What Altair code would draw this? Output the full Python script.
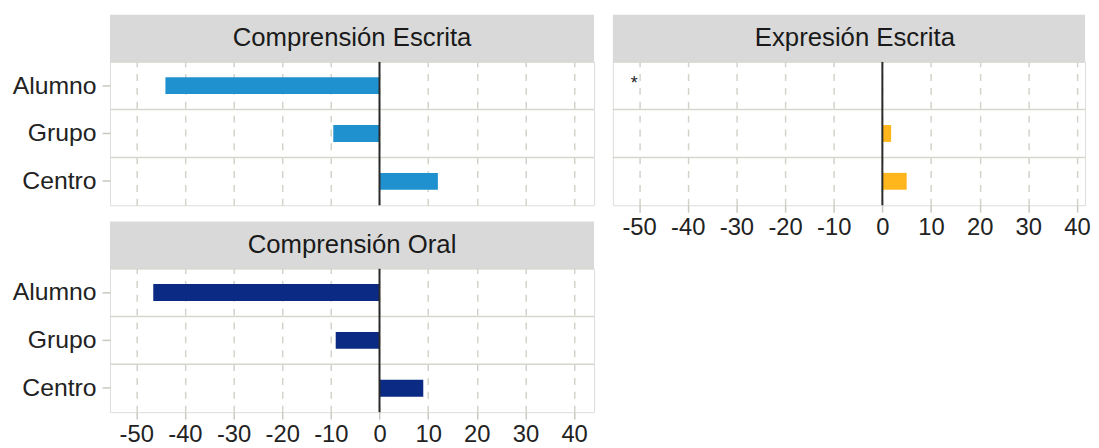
import altair as alt
import pandas as pd

categories = ["Alumno", "Grupo", "Centro"]
comp_escrita = [-44.0, -9.5, 12.0]
comp_oral = [-46.5, -9.0, 9.0]
expr_escrita = [None, 1.8, 5.0]
tick_values = [-50, -40, -30, -20, -10, 0, 10, 20, 30, 40]
missing_cat = ["Alumno"]
missing_x = [-51]
zero_line = [0]

FONT = "Liberation Sans"
LABEL = "#222222"
GRID = "#d3d3ca"
TICK = "#c9c9c0"
H = 145
HDR = 47.5


def panel(title, values, color, width, domain, show_y, show_x, missing=False, text_x=244.5):
    df = pd.DataFrame({"cat": categories, "val": values})
    bars_df = df.dropna()
    xscale = alt.Scale(domain=domain, nice=False, zero=False)
    yscale = alt.Scale(domain=categories, paddingInner=0, paddingOuter=0)
    if show_x:
        xaxis = alt.Axis(values=tick_values, grid=True, gridDash=[7, 7], gridColor=GRID,
                         gridWidth=1.5, labels=True, ticks=True, tickSize=7, tickColor=TICK,
                         tickWidth=1.5, labelFontSize=24, labelFont=FONT, labelColor=LABEL,
                         labelPadding=4, domain=False, title=None, labelFlush=False,
                         labelExpr="'' + datum.value")
    else:
        xaxis = alt.Axis(values=tick_values, grid=True, gridDash=[7, 7], gridColor=GRID,
                         gridWidth=1.5, labels=False, ticks=False, domain=False, title=None)
    if show_y:
        yaxis = alt.Axis(title=None, labelFontSize=25, labelFont=FONT, labelColor=LABEL,
                         tickColor=TICK, tickSize=8, tickWidth=1.5, labelPadding=6,
                         domain=False, grid=False)
    else:
        yaxis = None

    hdr_data = alt.Data(values=[{"t": title}])
    header_rect = alt.Chart(hdr_data).mark_rect(color="#d9d9d9").encode(
        x=alt.value(0), x2=alt.value(width), y=alt.value(-HDR), y2=alt.value(0)
    )
    header_text = alt.Chart(hdr_data).mark_text(
        fontSize=26, font=FONT, color="#1a1a1a", baseline="middle", align="center"
    ).encode(x=alt.value(text_x), y=alt.value(-HDR / 2), text="t:N")

    bars = alt.Chart(bars_df).mark_bar(size=17, color=color).encode(
        x=alt.X("val:Q", scale=xscale, axis=xaxis),
        y=alt.Y("cat:N", scale=yscale, axis=yaxis, sort=categories),
    )
    seps = alt.Chart(df).mark_rule(color="#d6d6cc", strokeWidth=1.5).encode(
        y=alt.Y("cat:N", scale=yscale, sort=categories, bandPosition=0, axis=yaxis),
    )
    zero = alt.Chart(pd.DataFrame({"z": zero_line})).mark_rule(
        color="#2a2a2a", strokeWidth=2
    ).encode(x=alt.X("z:Q", scale=xscale, axis=xaxis))

    layers = [seps, bars, zero]
    if missing:
        mdf = pd.DataFrame({"cat": missing_cat, "x": missing_x})
        star = alt.Chart(mdf).mark_text(
            text="*", fontSize=18, font=FONT, color=LABEL, baseline="middle", dy=-2
        ).encode(
            x=alt.X("x:Q", scale=xscale, axis=xaxis),
            y=alt.Y("cat:N", scale=yscale, sort=categories, axis=yaxis),
        )
        layers.append(star)
    layers += [header_rect, header_text]
    return alt.layer(*layers).properties(width=width, height=H)


W = 489
PX_PER_UNIT = 4.914
dom = [-55.4, 44.1]
W_EE = 477
dom_ee = [-55.4, -55.4 + W_EE / PX_PER_UNIT]

ce = panel("Comprensión Escrita", comp_escrita, "#1f91cf", W, dom, True, False)
co = panel("Comprensión Oral", comp_oral, "#0b2a84", W, dom, True, True)
ee = panel("Expresión Escrita", expr_escrita, "#ffb51c", W_EE, dom_ee, False, True,
           missing=True, text_x=W / 2)

left = alt.vconcat(ce, co, spacing=14)
chart = alt.hconcat(left, ee, spacing=15).properties(
    padding={"left": 3, "top": 4, "right": 0, "bottom": 0}
).configure_view(stroke="#d6d6cc", strokeWidth=1.2).configure(background="white")

chart.save("out.html", embed_options={"renderer": "svg", "actions": False})
